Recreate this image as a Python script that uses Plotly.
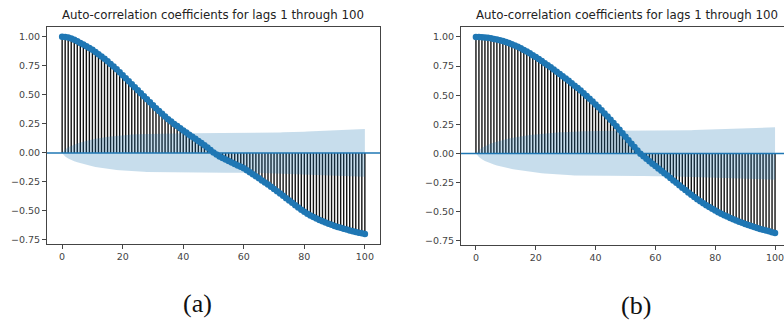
import plotly.graph_objects as go

# Lags 0..100
lags = list(range(101))

# Autocorrelation coefficients, series (a)
acf_a = [
    1.000, 0.998, 0.994, 0.986, 0.975, 0.962, 0.948, 0.934, 0.919, 0.904,
    0.889, 0.870, 0.851, 0.831, 0.811, 0.790, 0.767, 0.744, 0.720, 0.695,
    0.670, 0.644, 0.618, 0.592, 0.566, 0.540, 0.514, 0.488, 0.462, 0.436,
    0.410, 0.385, 0.361, 0.337, 0.313, 0.291, 0.270, 0.250, 0.231, 0.212,
    0.193, 0.175, 0.157, 0.139, 0.121, 0.103, 0.085, 0.066, 0.046, 0.025,
    0.004, -0.014, -0.030, -0.044, -0.057, -0.070, -0.083, -0.096, -0.108, -0.120,
    -0.133, -0.149, -0.166, -0.183, -0.201, -0.219, -0.237, -0.255, -0.273, -0.291,
    -0.310, -0.330, -0.350, -0.370, -0.390, -0.410, -0.430, -0.450, -0.470, -0.490,
    -0.508, -0.524, -0.539, -0.553, -0.566, -0.578, -0.589, -0.600, -0.610, -0.620,
    -0.629, -0.638, -0.646, -0.654, -0.661, -0.668, -0.675, -0.681, -0.687, -0.693,
    -0.698,
]

# Autocorrelation coefficients, series (b)
acf_b = [
    1.000, 0.999, 0.997, 0.995, 0.992, 0.988, 0.983, 0.978, 0.972, 0.965,
    0.957, 0.948, 0.938, 0.927, 0.915, 0.902, 0.888, 0.874, 0.859, 0.843,
    0.827, 0.810, 0.793, 0.775, 0.757, 0.739, 0.720, 0.701, 0.682, 0.663,
    0.643, 0.623, 0.603, 0.582, 0.561, 0.540, 0.517, 0.494, 0.470, 0.446,
    0.421, 0.396, 0.370, 0.344, 0.317, 0.290, 0.262, 0.233, 0.204, 0.174,
    0.144, 0.114, 0.084, 0.055, 0.026, -0.002, -0.024, -0.045, -0.066, -0.087,
    -0.108, -0.128, -0.148, -0.169, -0.189, -0.210, -0.231, -0.252, -0.273, -0.294,
    -0.314, -0.334, -0.354, -0.373, -0.392, -0.410, -0.427, -0.443, -0.459, -0.474,
    -0.489, -0.503, -0.516, -0.529, -0.541, -0.553, -0.564, -0.575, -0.585, -0.595,
    -0.605, -0.614, -0.623, -0.631, -0.639, -0.647, -0.654, -0.661, -0.668, -0.675,
    -0.682,
]

# Half-width of the 95% confidence band around zero, series (a)
band_a = [
    0.000, 0.030, 0.048, 0.061, 0.072, 0.081, 0.089, 0.097, 0.104, 0.110,
    0.116, 0.121, 0.126, 0.130, 0.134, 0.138, 0.141, 0.144, 0.147, 0.150,
    0.152, 0.154, 0.156, 0.158, 0.160, 0.161, 0.162, 0.163, 0.164, 0.165,
    0.166, 0.167, 0.167, 0.168, 0.168, 0.169, 0.169, 0.169, 0.170, 0.170,
    0.170, 0.170, 0.170, 0.170, 0.170, 0.170, 0.170, 0.170, 0.170, 0.170,
    0.170, 0.170, 0.170, 0.170, 0.170, 0.170, 0.170, 0.170, 0.171, 0.171,
    0.171, 0.171, 0.171, 0.172, 0.172, 0.172, 0.173, 0.173, 0.174, 0.174,
    0.175, 0.175, 0.176, 0.177, 0.177, 0.178, 0.179, 0.180, 0.181, 0.182,
    0.183, 0.184, 0.185, 0.186, 0.187, 0.188, 0.189, 0.190, 0.191, 0.192,
    0.193, 0.194, 0.195, 0.196, 0.197, 0.199, 0.200, 0.201, 0.202, 0.204,
    0.205,
]

# Half-width of the 95% confidence band around zero, series (b)
band_b = [
    0.000, 0.030, 0.050, 0.064, 0.075, 0.085, 0.094, 0.102, 0.109, 0.116,
    0.122, 0.128, 0.133, 0.138, 0.143, 0.147, 0.151, 0.155, 0.158, 0.161,
    0.164, 0.167, 0.170, 0.172, 0.174, 0.176, 0.178, 0.180, 0.182, 0.183,
    0.185, 0.186, 0.187, 0.188, 0.189, 0.190, 0.191, 0.191, 0.192, 0.192,
    0.193, 0.193, 0.193, 0.193, 0.194, 0.194, 0.194, 0.194, 0.194, 0.194,
    0.194, 0.194, 0.194, 0.194, 0.194, 0.194, 0.194, 0.194, 0.194, 0.194,
    0.195, 0.195, 0.195, 0.196, 0.196, 0.196, 0.197, 0.197, 0.198, 0.198,
    0.199, 0.200, 0.200, 0.201, 0.202, 0.203, 0.204, 0.205, 0.206, 0.207,
    0.208, 0.209, 0.210, 0.211, 0.212, 0.213, 0.214, 0.215, 0.216, 0.217,
    0.218, 0.218, 0.219, 0.220, 0.221, 0.222, 0.222, 0.223, 0.224, 0.224,
    0.225,
]

x_ticks = [0, 20, 40, 60, 80, 100]
y_ticks = [-0.75, -0.50, -0.25, 0.00, 0.25, 0.50, 0.75, 1.00]
panel_title = "Auto-correlation coefficients for lags 1 through 100"
panel_labels = ["(a)", "(b)"]

BLUE = "#1f77b4"
BAND = "rgba(31,119,180,0.25)"

fig = go.Figure()


def add_panel(acf, band, xa, ya):
    # vertical stems from zero to each coefficient
    sx, sy = [], []
    for lag, v in zip(lags, acf):
        sx += [lag, lag, None]
        sy += [0, v, None]
    fig.add_trace(go.Scatter(x=sx, y=sy, mode="lines",
                             line=dict(color="#111111", width=1.4),
                             xaxis=xa, yaxis=ya, hoverinfo="skip"))
    # coefficient markers
    fig.add_trace(go.Scatter(x=lags, y=acf, mode="markers",
                             marker=dict(color=BLUE, size=6.5, line=dict(width=0)),
                             xaxis=xa, yaxis=ya))
    # confidence band (upper edge forward, lower edge back)
    fig.add_trace(go.Scatter(x=lags + lags[::-1],
                             y=band + [-b for b in band[::-1]],
                             mode="lines", line=dict(width=0),
                             fill="toself", fillcolor=BAND,
                             xaxis=xa, yaxis=ya, hoverinfo="skip"))


add_panel(acf_a, band_a, "x", "y")
add_panel(acf_b, band_b, "x2", "y2")

axis_font = dict(family="DejaVu Sans", size=9.5, color="#444")


def xaxis(domain, anchor, rng):
    return dict(domain=domain, anchor=anchor, range=rng,
                tickvals=x_ticks, ticks="outside", ticklen=4, tickcolor="#444",
                showline=True, linecolor="#444", linewidth=1, mirror=True,
                showgrid=False, zeroline=False, tickfont=axis_font,
                ticklabeloverflow="allow")


def yaxis(domain, anchor, mirror):
    return dict(domain=domain, anchor=anchor, range=[-0.785, 1.085],
                tickvals=y_ticks, tickformat=".2f", ticks="outside", ticklen=4,
                tickcolor="#444", showline=True, linecolor="#444", linewidth=1,
                mirror=mirror, showgrid=False, zeroline=False, tickfont=axis_font)


W, H = 784, 320
fig.update_layout(
    width=W, height=H,
    margin=dict(l=0, r=0, t=0, b=0),
    paper_bgcolor="white", plot_bgcolor="white",
    showlegend=False,
    xaxis=xaxis([47 / W, 380 / W], "y", [-5, 105]),
    yaxis=yaxis([1 - 244 / H, 1 - 27 / H], "x", True),
    xaxis2=xaxis([461 / W, 1.0], "y2", [-5, 103]),
    yaxis2=yaxis([1 - 245 / H, 1 - 27 / H], "x2", False),
)

# horizontal line at zero across each panel
for xr, yr in (("x domain", "y"), ("x2 domain", "y2")):
    fig.add_shape(type="line", xref=xr, yref=yr, x0=0, x1=1, y0=0, y1=0,
                  line=dict(color=BLUE, width=1.5), layer="above")

title_font = dict(family="DejaVu Sans", size=11.8, color="#222")
for cx in (213.5, 627):
    fig.add_annotation(text=panel_title, xref="paper", yref="paper",
                       x=cx / W, y=1 - 15 / H, xanchor="center", yanchor="middle",
                       showarrow=False, font=title_font)

label_font = dict(family="Liberation Serif", size=26, color="#111")
for text, cx, cy in ((panel_labels[0], 197, 303), (panel_labels[1], 636, 305)):
    fig.add_annotation(text=text, xref="paper", yref="paper",
                       x=cx / W, y=1 - cy / H, xanchor="center", yanchor="middle",
                       showarrow=False, font=label_font)

fig.write_html("out.html")
